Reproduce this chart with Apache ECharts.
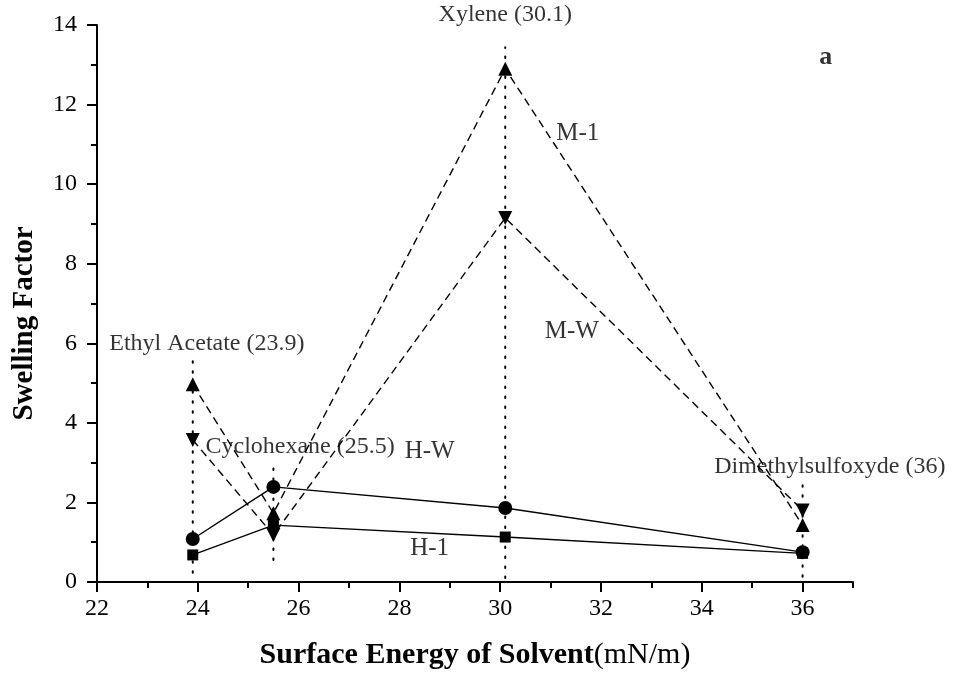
<!DOCTYPE html>
<html><head><meta charset="utf-8">
<script src="https://cdn.jsdelivr.net/npm/echarts@6/dist/echarts.min.js"></script>
<style>html,body{margin:0;padding:0;background:#fff}#c{width:953px;height:679px}</style>
</head><body><div id="c"></div>
<script>
var solventEnergy = [23.9, 25.5, 30.1, 36];
var m1 = [4.97, 1.73, 12.9, 1.43];
var mw = [3.57, 1.18, 9.15, 1.8];
var hw = [1.08, 2.39, 1.86, 0.75];
var h1 = [0.68, 1.43, 1.13, 0.72];
// vertical guide extents [x, yLow, yHigh]
var guides = [[23.9, 0.23, 5.63], [25.5, 0.55, 2.94], [30.1, 0.1, 13.44], [36, 0.13, 2.56]];
// annotation texts [x, y, text]
var solventLabels = [[24.18, 6.0, 'Ethyl Acetate (23.9)'], [26.03, 3.39, 'Cyclohexane (25.5)'], [30.1, 14.25, 'Xylene (30.1)'], [36.54, 2.91, 'Dimethylsulfoxyde (36)']];
var seriesLabels = [[31.54, 11.28, 'M-1'], [31.42, 6.3, 'M-W'], [28.6, 3.29, 'H-W'], [28.6, 0.85, 'H-1']];
var panelLabel = [[36.46, 13.2, 'a']];

function pairs(ys){ return solventEnergy.map(function(x,i){return [x, ys[i]];}); }
var font = 'Liberation Serif';
var series = [];
guides.forEach(function(g){
  series.push({type:'line', data:[[g[0],g[1]],[g[0],g[2]]], symbol:'none', silent:true,
    lineStyle:{color:'#000', width:2, type:[1.5,8.5], cap:'round'}, z:1});
});
function mk(name, ys, sym, size, dashed, rot){
  series.push({name:name, type:'line', data:pairs(ys), symbol:sym, symbolSize:size, symbolRotate:rot||0,
    itemStyle:{color:'#000'}, lineStyle:{color:'#000', width:1.4, type: dashed ? [8,5] : 'solid'}, z:3});
}
mk('M-1', m1, 'triangle', 14, true);
mk('M-W', mw, 'triangle', 14, true, 180);
mk('H-W', hw, 'circle', 14, false);
mk('H-1', h1, 'rect', 11, false);
function textSeries(arr, size, bold){
  series.push({type:'scatter', clip:false, symbolSize:0, silent:true, z:5,
    data: arr.map(function(a){return {value:[a[0],a[1]], label:{formatter:a[2]}};}),
    label:{show:true, position:'inside', color:'#000', textBorderWidth:0, fontFamily:font, fontSize:size, fontWeight: bold?'bold':'normal'}});
}
textSeries(solventLabels, 24);
textSeries(seriesLabels, 25);
textSeries(panelLabel, 26, true);

var chart = echarts.init(document.getElementById('c'));
chart.setOption({
  animation:false,
  backgroundColor:'#fff',
  grid:{left:97, right:100, top:25, bottom:97},
  xAxis:[{type:'value', min:22, max:37, interval:2,
    name:'{b|Surface Energy of Solvent}{n|(mN/m)}', nameLocation:'middle', nameGap:58,
    nameTextStyle:{rich:{b:{fontFamily:font, fontSize:30, fontWeight:'bold', color:'#000'}, n:{fontFamily:font, fontSize:30, color:'#000'}}},
    axisLine:{lineStyle:{color:'#000', width:2}},
    axisTick:{length:10, lineStyle:{color:'#000', width:2}},
    axisLabel:{showMaxLabel:false, color:'#000', fontFamily:font, fontSize:24, margin:15},
    splitLine:{show:false}},
   {type:'value', min:22, max:37, interval:1, position:'bottom',
    axisLine:{show:false}, axisLabel:{show:false}, axisTick:{length:6, lineStyle:{color:'#000', width:2}}, splitLine:{show:false}}],
  yAxis:{type:'value', min:0, max:14, interval:2,
    name:'Swelling Factor', nameLocation:'middle', nameGap:58, nameRotate:90,
    nameTextStyle:{fontFamily:font, fontSize:29, fontWeight:'bold', color:'#000', padding:[0,40,0,0]},
    axisLine:{show:true, lineStyle:{color:'#000', width:2}},
    axisTick:{show:true, length:10, lineStyle:{color:'#000', width:2}},
    minorTick:{show:true, splitNumber:2, length:6, lineStyle:{color:'#000', width:2}},
    axisLabel:{color:'#000', fontFamily:font, fontSize:24, margin:20},
    splitLine:{show:false}},
  series: series
});
</script></body></html>
